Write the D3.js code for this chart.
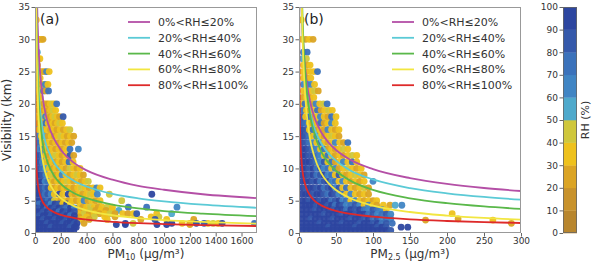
<!DOCTYPE html>
<html><head><meta charset="utf-8">
<script src="https://cdn.jsdelivr.net/npm/d3@7"></script>
<style>body{margin:0;background:#fff}svg{font-family:"DejaVu Sans",sans-serif}</style>
</head><body><svg id="c" width="595" height="263"></svg>
<script>
// ---------- data ----------
const rhColors = ["#b8862e","#c8922c","#dba424","#eec11c","#cfc73c","#4ea9cc","#4085c4","#3b72bb","#3559ab","#2d46a0"];
const rhTicks = [0,10,20,30,40,50,60,70,80,90,100];
const legendLabels = ["0%<RH≤20%","20%<RH≤40%","40%<RH≤60%","60%<RH≤80%","80%<RH≤100%"];
const curveColors = ["#b44fa6","#5bcad6","#5ab84a","#f2e641","#de2a2a"];
const yTicks = [0,5,10,15,20,25,30,35];
const xTicksA = [0,200,400,600,800,1000,1200,1400,1600];
const xTicksB = [0,50,100,150,200,250,300];

// fitted curves, panel (a): visibility read at these PM10 values
const gridA = [0.2,0.5,1,2,3,5,7,10,15,20,30,40,60,80,100,150,200,300,400,600,800,1000,1300,1720];
const curveA0 = [211,146,110,83,70.5,57.3,50,43.3,36.7,32.7,27.7,24.7,21.0,18.6,17.0,14.5,12.9,10.9,9.7,8.25,7.3,6.7,6.0,5.4];
const curveA1 = [175,119,89,66.6,56.1,45.3,39.3,33.9,28.6,25.3,21.3,18.9,15.96,14.1,12.9,10.85,9.6,8.1,7.2,6.06,5.37,4.89,4.38,3.9];
const curveA2 = [241,153,108,76.4,62.4,48.3,40.8,34.2,27.9,24.1,19.7,17.1,13.9,12.1,10.8,8.8,7.6,6.2,5.4,4.4,3.8,3.4,3.0,2.6];
const curveA3 = [363,210,136,89,69.6,51,41.5,33.4,26.1,21.9,17.1,14.3,11.2,9.4,8.2,6.4,5.4,4.2,3.5,2.75,2.3,2.0,1.71,1.45];
const curveA4 = [61.5,40.8,30,22,18.4,14.6,12.6,10.7,9.0,7.9,6.6,5.8,4.8,4.25,3.8,3.2,2.8,2.36,2.07,1.73,1.52,1.38,1.22,1.08];

// fitted curves, panel (b): visibility read at these PM2.5 values
const gridB = [0.1,0.2,0.5,1,2,3,5,7,10,15,20,30,40,50,70,100,150,200,250,300];
const curveB0 = [136,105,74,56.8,43.7,37.4,30.8,27.1,23.7,20.3,18.2,15.6,14.0,12.85,11.3,9.9,8.5,7.6,6.97,6.5];
const curveB1 = [161,120,80.8,60,44.5,37.4,30.0,26.0,22.3,18.7,16.5,13.9,12.3,11.2,9.65,8.3,6.95,6.15,5.58,5.16];
const curveB2 = [260,180,110.6,76.6,53.1,42.8,32.7,27.3,22.6,18.2,15.7,12.6,10.85,9.64,8.07,6.67,5.38,4.62,4.11,3.73];
const curveB3 = [378,250,132,84.5,53.9,41.4,29.7,23.9,18.9,14.5,12.1,9.26,7.68,6.65,5.34,4.24,3.25,2.70,2.33,2.07];
const curveB4 = [52.6,38.8,25.9,19.1,14.1,11.8,9.4,8.1,6.94,5.8,5.11,4.28,3.77,3.42,2.95,2.52,2.11,1.86,1.68,1.55];

// observations: [visibility km, PM values, RH values]
const rowsA = [
 [33,[10],[35]],
 [30,[8,22,36,50,62],[25,35,25,35,25]],
 [28,[8,18],[65,55]],
 [27,[10,24,38],[35,25,35]],
 [26,[8,20],[25,35]],
 [25,[10,25,40,55,72,90,110],[35,25,45,35,25,65,35]],
 [24,[10,25,40],[35,25,35]],
 [23,[12,28,45,62,80,100],[35,45,25,35,65,35]],
 [22,[12,30,48,66,85,105],[25,35,35,65,25,75]],
 [21,[10,25,40],[35,25,35]],
 [20,[10,25,40,55,70,85,100,118,135,150,168],[35,25,35,45,25,35,25,35,45,35,75]],
 [19,[12,30,48,66,84,102,120,140,160],[35,25,35,25,35,25,35,45,35]],
 [18,[10,28,46,64,82,100,118,136,154,172,190,218],[45,35,25,35,65,35,25,35,45,35,25,85]],
 [17,[12,30,48,66,84,102,120,138,156,174,192,212],[35,25,35,25,75,35,25,35,25,35,45,35]],
 [16,[10,30,50,70,95,120,145,170,195,220,245,270],[65,35,45,25,35,25,35,25,35,25,35,45]],
 [15,[10,30,50,75,100,125,150,175,200,225,250,275,300],[75,65,35,55,25,35,25,35,45,35,25,35,25]],
 [14,[12,35,60,85,110,135,160,185,210,235,260,285],[85,75,35,25,35,25,35,25,35,25,35,25]],
 [13,[10,32,58,85,110,135,160,185,210,240,271,336],[85,65,75,35,25,35,25,35,25,35,75,65]],
 [12,[10,32,58,85,110,135,160,185,210,240,271,300],[95,85,75,35,25,35,45,35,25,35,85,25]],
 [11,[10,32,58,85,110,135,160,185,210,237,264,295],[95,85,65,35,25,35,25,35,25,35,75,35]],
 [10,[10,32,58,85,110,135,160,185,210,240,270,300,325,349],[95,85,75,55,35,25,35,25,35,25,45,35,25,35]],
 [9,[10,32,58,85,110,135,160,185,210,240,270,300,325,350,375],[95,95,85,65,35,45,25,35,65,35,25,35,45,35,25]],
 [8,[10,32,55,78,100,125,150,175,200,225,250,275,300,330,360,390,413],[95,85,95,65,75,35,25,35,25,35,45,35,25,35,25,35,45]],
 [7,[10,32,55,78,100,125,150,175,200,225,250,275,300,330,360,390,420,450,478,504],[95,95,85,75,85,35,25,35,25,35,25,35,25,35,45,35,25,35,65,35]],
 [6,[10,32,55,78,100,125,150,189,215,258,285,310,340,370,400,430,452,483,576,905],[95,95,85,75,85,65,35,95,35,95,35,25,35,25,35,45,35,65,45,95]],
 [5,[10,32,55,78,100,125,150,175,200,230,260,290,320,350,380,410,440,470,504,672],[95,95,95,85,75,85,45,35,25,35,25,35,25,35,65,25,35,25,35,45]],
 [4,[340,370,400,430,460,490,520,560,600,723,865,1100],[35,25,35,45,35,25,35,45,35,75,75,65]],
 [3.5,[350,390,430,470,510,550,600,650],[25,35,45,25,35,25,35,55]],
 [3,[340,380,420,460,500,540,580,620,680,720,762,788,943,1059],[35,45,25,35,25,35,45,25,35,25,35,85,35,55]],
 [2.5,[340,400,460,540,620,900,960],[25,35,45,35,25,35,45]],
 [2.1,[360,420,560,820,930,1020,1230],[35,25,35,25,85,35,25]],
 [1.5,[380,700,760,1060,1140,1200,1340,1380,1420,1250,1310,1450,1700],[25,95,45,95,35,25,35,45,35,95,85,95,75]],
 [1.3,[630,700,945,1020,1200],[95,95,95,95,25]],
 [4.5,[5,35,65,95,125,155,185,215,245,275],[85,75,95,85,65,95,85,35,95,35]],
 [3.9,[5,35,65,95,125,155,185,215,245,275,305],[95,85,95,75,95,85,95,85,75,95,65]],
 [3.3,[5,35,65,95,125,155,185,215,245,275,305],[95,95,85,95,85,95,75,95,85,95,85]],
 [2.7,[5,35,65,95,125,155,185,215,245,275,305],[95,85,95,95,85,95,95,85,95,75,95]],
 [2.1,[5,35,65,95,125,155,185,215,245,275,305],[95,95,85,95,95,85,95,95,85,95,95]],
 [1.5,[5,35,65,95,125,155,185,215,245,275,305,325],[95,95,95,85,95,95,95,85,95,95,85,95]],
 [0.9,[5,35,65,95,125,155,185,215,245,275,305,320],[95,95,95,95,85,95,95,95,95,85,95,95]],
 [0.3,[5,35,65,95,125,155,185,215,245,275,300],[95,95,95,95,95,95,95,95,95,95,95]]
];
const rowsB = [
 [33,[3],[35]],
 [30,[4,9,14,19],[35,25,35,25]],
 [28,[6,11],[65,75]],
 [27,[5,10],[55,45]],
 [26,[6,11,15],[35,25,35]],
 [25,[5,10,15,20,25],[35,25,35,35,75]],
 [24,[6,11,16],[35,25,35]],
 [23,[6,11,16,21],[65,75,65,35]],
 [22,[6,11,16,21,26],[35,25,35,45,25]],
 [21,[5,10,15,20],[25,35,25,35]],
 [20,[3,8,13,18,23,28,33,38],[35,75,35,25,65,35,45,75]],
 [19,[5,10,15,20,25,30,35,40,45],[75,35,25,35,75,25,35,45,35]],
 [18,[4,9,14,19,24,29,34,39,44,50],[85,35,75,25,35,65,35,25,75,35]],
 [17,[4,9,14,19,24,29,34,39,44,49],[85,75,35,25,35,75,25,35,65,35]],
 [16,[4,9,14,19,24,29,34,39,44,49,54],[95,85,35,75,25,35,25,65,35,25,35]],
 [15,[4,9,14,19,24,29,34,39,44,49,54],[95,85,75,35,65,35,25,35,45,35,25]],
 [14,[4,9,14,19,24,29,34,39,44,49,55,60,66],[95,85,75,65,35,75,35,25,35,65,35,25,75]],
 [13,[4,9,14,19,24,29,34,39,44,49,54,60,66],[95,95,85,75,65,35,75,25,35,25,35,45,35]],
 [12,[4,9,14,19,24,29,34,39,44,49,55,60,66,72,78],[95,95,85,85,75,65,35,75,35,25,35,25,35,45,35]],
 [11,[4,9,14,19,24,29,34,39,44,49,55,60,66,72,78],[95,95,95,85,75,65,85,35,75,25,35,65,35,75,35]],
 [10,[4,9,14,19,24,29,34,39,44,49,54,60,66,72,78,84],[95,95,85,95,75,85,65,75,35,65,25,35,45,35,25,35]],
 [9,[4,9,14,19,24,29,34,39,44,49,54,59,64,70,76,82,88],[95,95,85,95,75,85,95,65,75,35,85,35,25,35,45,35,25]],
 [8,[4,9,14,19,24,29,34,39,44,49,54,59,64,70,76,82,88,100],[95,95,95,85,95,75,85,95,65,75,35,65,35,25,35,25,35,65]],
 [7,[4,9,14,19,24,29,34,39,44,49,54,59,64,70,76,82,88,94],[95,85,95,95,85,95,75,85,95,65,85,35,75,35,25,35,45,25]],
 [6,[4,9,14,19,24,29,34,39,44,49,54,59,64,70,76,82,88,94],[95,95,95,85,95,95,85,75,95,85,65,75,35,65,35,25,35,25]],
 [5,[4,9,14,19,24,29,34,39,44,49,54,59,64,70,76,82,88,94,100,105],[95,95,85,95,95,85,95,95,75,85,95,65,75,35,65,35,25,35,25,35]],
 [3,[207],[35]],
 [2.2,[215],[25]],
 [2,[171,262],[25,35]],
 [1.5,[287],[25]],
 [4.3,[4,9,14,19,24,29,34,39,44,49,54,59,64,70,76,82,88,94,100,105,114,123,130,139],[95,95,95,95,85,95,95,85,95,75,95,85,65,75,85,65,35,65,35,25,35,25,55,65]],
 [3.6,[4,10,16,22,28,34,40,46,52,58,64,70,76,82,88,94,100,106,112,118],[95,95,95,85,95,95,95,85,95,95,75,95,85,95,75,65,85,75,65,35]],
 [2.9,[4,10,16,22,28,34,40,46,52,58,64,70,76,82,88,94,100,106,112,118,124],[95,95,95,95,95,85,95,95,95,85,95,95,85,95,95,75,85,65,75,85,65]],
 [2.2,[4,10,16,22,28,34,40,46,52,58,64,70,76,82,88,94,100,106,112,118,124],[95,95,85,95,95,95,95,85,95,95,95,85,95,95,85,95,75,85,65,75,65]],
 [1.5,[4,10,16,22,28,34,40,46,52,58,64,70,76,82,88,94,100,106,112,118,126],[95,95,95,95,85,95,95,95,95,85,95,95,95,85,95,95,85,95,75,85,75]],
 [0.9,[4,10,16,22,28,34,40,46,52,58,64,70,76,82,88,94,100,106,112,118,138,147],[95,95,95,95,95,95,85,95,95,95,95,95,85,95,95,95,95,85,95,85,95,95]],
 [0.4,[4,10,16,22,28,34,40,46,52,58,64,70,76,82,88,94,100,106,112,118,124],[95,95,95,95,95,95,95,95,95,95,95,95,95,95,95,95,95,95,95,95,85]]
];

// ---------- drawing ----------
const svg = d3.select("#c");
const rhColor = d3.scaleQuantize().domain([0,100]).range(rhColors);
const TOP = 7, BOT = 233;
const y = d3.scaleLinear().domain([0,35]).range([BOT,TOP]);

function styleAxis(g){
  g.select(".domain").remove();
  g.selectAll(".tick line").attr("stroke","#666");
  g.selectAll(".tick text").attr("fill","#333").attr("font-size",9).attr("font-family","DejaVu Sans");
}

function panel(o){
  const x = d3.scaleLinear().domain(o.xDomain).range([o.left,o.right]);
  const g = svg.append("g");
  const cid = "clip"+o.id;
  svg.append("clipPath").attr("id",cid).append("rect")
    .attr("x",o.left).attr("y",TOP).attr("width",o.right-o.left).attr("height",BOT-TOP);
  const pts = o.rows.flatMap(([v,pms,rhs])=>pms.map((p,i)=>({pm:p,v:v,rh:rhs[i]})));
  const plot = g.append("g").attr("clip-path",`url(#${cid})`);
  plot.selectAll("circle").data(pts).join("circle")
    .attr("cx",d=>x(d.pm)).attr("cy",d=>y(d.v)).attr("r",3.4)
    .attr("fill",d=>rhColor(d.rh)).attr("fill-opacity",0.95);
  const line = d3.line().x(d=>x(d[0])).y(d=>y(d[1])).curve(d3.curveMonotoneX);
  o.curves.forEach((c,i)=>{
    plot.append("path").datum(o.grid.map((p,k)=>[p,c[k]]))
      .attr("d",line).attr("fill","none").attr("stroke",curveColors[i]).attr("stroke-width",1.8);
  });
  g.append("rect").attr("x",o.left+0.5).attr("y",TOP+0.5).attr("width",o.right-o.left-1).attr("height",BOT-TOP-1)
    .attr("fill","none").attr("stroke","#999").attr("stroke-width",1);
  g.append("g").attr("transform",`translate(0,${BOT})`)
    .call(d3.axisBottom(x).tickValues(o.xTicks).tickSize(3.5).tickPadding(1.5).tickFormat(d3.format("d")))
    .call(styleAxis);
  g.append("g").attr("transform",`translate(${o.left},0)`)
    .call(d3.axisLeft(y).tickValues(yTicks).tickSize(3.5).tickPadding(1.5))
    .call(styleAxis);
  const lg = g.append("g");
  legendLabels.forEach((t,i)=>{
    const yy = 22 + i*15.8;
    lg.append("line").attr("x1",o.left+93).attr("x2",o.left+115).attr("y1",yy).attr("y2",yy)
      .attr("stroke",curveColors[i]).attr("stroke-width",1.8);
    lg.append("text").attr("x",o.left+123).attr("y",yy+3.9).attr("font-size",11).attr("fill","#333").text(t);
  });
  g.append("text").attr("x",o.left+5).attr("y",24).attr("font-size",14).attr("fill","#222").text(o.label);
  const xl = g.append("text").attr("x",(o.left+o.right)/2).attr("y",258).attr("text-anchor","middle")
    .attr("font-size",12).attr("fill","#333");
  xl.append("tspan").text("PM");
  xl.append("tspan").attr("font-size",8).attr("dy",2).text(o.sub);
  xl.append("tspan").attr("dy",-2).text(" (μg/m³)");
}

panel({id:"a",left:35,right:257,xDomain:[0,1720],xTicks:xTicksA,rows:rowsA,grid:gridA,
  curves:[curveA0,curveA1,curveA2,curveA3,curveA4],label:"(a)",sub:"10"});
panel({id:"b",left:299,right:521,xDomain:[0,300],xTicks:xTicksB,rows:rowsB,grid:gridB,
  curves:[curveB0,curveB1,curveB2,curveB3,curveB4],label:"(b)",sub:"2.5"});

svg.append("text").attr("transform","translate(11,120) rotate(-90)").attr("text-anchor","middle")
  .attr("font-size",12).attr("fill","#333").text("Visibility (km)");

const cb = d3.scaleLinear().domain([0,100]).range([BOT,TOP]);
const cbx = 563, cbw = 14;
svg.append("g").selectAll("rect").data(rhColors).join("rect")
  .attr("x",cbx).attr("width",cbw)
  .attr("y",(d,i)=>cb((i+1)*10)).attr("height",(d,i)=>cb(i*10)-cb((i+1)*10)+0.3)
  .attr("fill",d=>d);
svg.append("rect").attr("x",cbx+0.5).attr("y",TOP+0.5).attr("width",cbw-1).attr("height",BOT-TOP-1)
  .attr("fill","none").attr("stroke","#666").attr("stroke-width",0.8);
svg.append("g").attr("transform",`translate(${cbx},0)`)
  .call(d3.axisLeft(cb).tickValues(rhTicks).tickSize(3.5).tickPadding(1.5))
  .call(styleAxis);
svg.append("text").attr("transform","translate(589,120) rotate(-90)").attr("text-anchor","middle")
  .attr("font-size",11).attr("fill","#333").text("RH (%)");
</script></body></html>
